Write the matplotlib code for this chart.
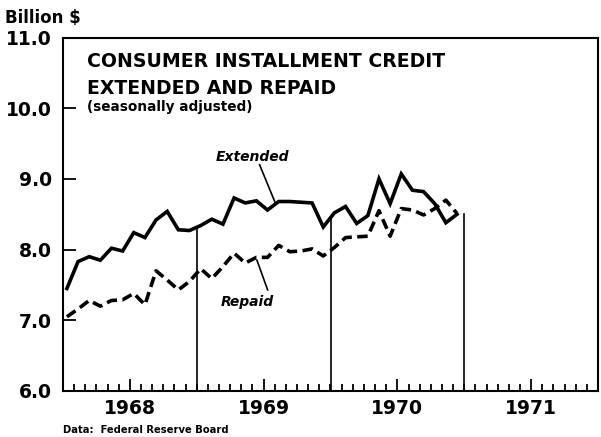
import matplotlib
matplotlib.use("Agg")
import matplotlib.pyplot as plt
import numpy as np

# monthly data, Jan 1968 - Dec 1970 (billion $, seasonally adjusted)
months = np.arange(36)
extended = [7.45, 7.83, 7.90, 7.85, 8.02, 7.98, 8.24, 8.17, 8.42, 8.54, 8.28, 8.27,
            8.34, 8.43, 8.36, 8.73, 8.66, 8.69, 8.56, 8.68, 8.68, 8.67, 8.66, 8.32,
            8.52, 8.61, 8.37, 8.48, 9.00, 8.65, 9.07, 8.84, 8.82, 8.65, 8.38, 8.50]
repaid = [7.05, 7.16, 7.28, 7.20, 7.28, 7.29, 7.38, 7.22, 7.70, 7.57, 7.43, 7.55,
          7.73, 7.59, 7.76, 7.95, 7.81, 7.89, 7.89, 8.06, 7.97, 7.98, 8.01, 7.91,
          8.03, 8.17, 8.18, 8.19, 8.55, 8.19, 8.58, 8.56, 8.49, 8.58, 8.70, 8.51]
years = [1968, 1969, 1970, 1971]
yticks = [6.0, 7.0, 8.0, 9.0, 10.0, 11.0]

x = 1968 + (months + 0.35) / 12.0

fig = plt.figure(figsize=(6.01, 4.37), dpi=100)
ax = fig.add_axes([63/601, 1-391/437, 535/601, 353.5/437])

ax.plot(x, extended, color='black', lw=2.6, solid_joinstyle='miter')
ax.plot(x, repaid, color='black', lw=2.6, dashes=(2.9, 1.5))

# year separators up to the extended line
for yr in [1969, 1970, 1971]:
    top = np.interp(yr, x, extended)
    ax.plot([yr, yr], [6.0, top], color='black', lw=1.2)

ax.set_xlim(1968, 1972)
ax.set_ylim(6.0, 11.0)

ax.set_yticks(yticks)
ax.set_yticklabels(['%.1f' % v for v in yticks])
ax.set_xticks([y + 0.5 for y in years])
ax.set_xticklabels([str(y) for y in years])
ax.set_xticks(np.arange(1968, 1972, 1/12.0), minor=True)
ax.tick_params(axis='x', which='major', direction='in', length=9, width=1.3, pad=6,
               labelsize=13.5)
ax.tick_params(axis='x', which='minor', direction='in', length=5, width=1.3)
ax.tick_params(axis='y', direction='in', length=9, width=1.3, pad=8, labelsize=13.5)
for lab in ax.get_xticklabels() + ax.get_yticklabels():
    lab.set_fontweight('bold')

for s in ax.spines.values():
    s.set_linewidth(1.5)

ax.text(0.045, 0.931, 'CONSUMER INSTALLMENT CREDIT', transform=ax.transAxes,
        fontsize=13.6, fontweight='heavy', va='center', ha='left')
ax.text(0.045, 0.857, 'EXTENDED AND REPAID', transform=ax.transAxes,
        fontsize=13.6, fontweight='heavy', va='center', ha='left')
ax.text(0.045, 0.803, '(seasonally adjusted)', transform=ax.transAxes,
        fontsize=9.8, fontweight='bold', va='center', ha='left')

ax.text(1969.42, 9.31, 'Extended', fontsize=10, fontweight='heavy', style='italic',
        ha='center', va='center')
ax.plot([1969.47, 1969.585], [9.20, 8.67], color='black', lw=1.2)
ax.text(1969.38, 7.26, 'Repaid', fontsize=10, fontweight='heavy', style='italic',
        ha='center', va='center')
ax.plot([1969.53, 1969.45], [7.43, 7.85], color='black', lw=1.2)

fig.text(5/601, 1-18/437, 'Billion $', fontsize=12, fontweight='bold', va='center')
fig.text(63/601, 1-430/437, 'Data:  Federal Reserve Board', fontsize=8,
         fontweight='bold', family=['Liberation Sans Narrow', 'DejaVu Sans'],
         fontstretch='condensed', va='center')

fig.savefig('out.png', dpi=100)
